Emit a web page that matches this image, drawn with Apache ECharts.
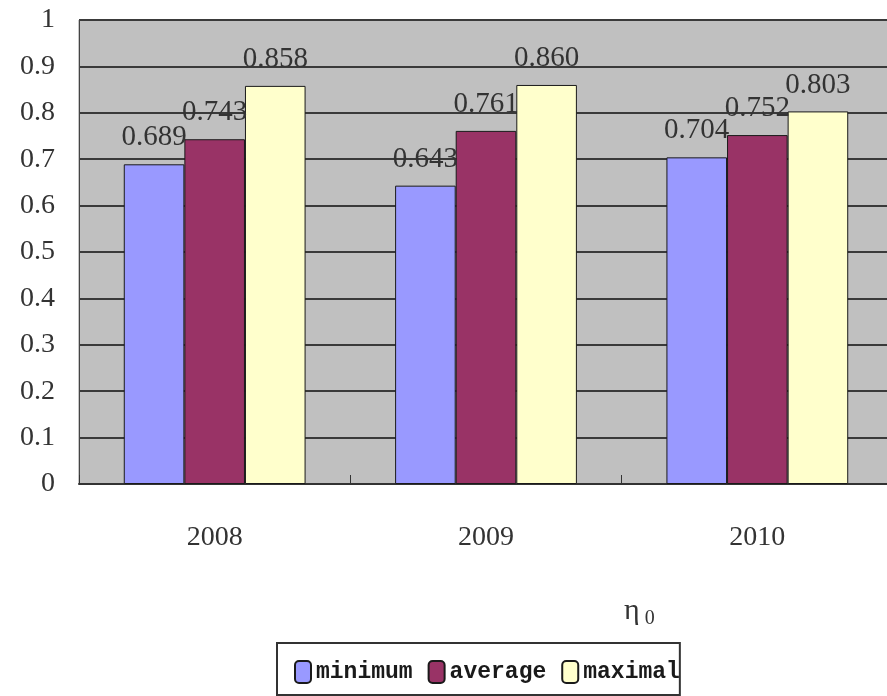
<!DOCTYPE html>
<html>
<head>
<meta charset="utf-8">
<title>η0 by year</title>
<script src="https://cdn.jsdelivr.net/npm/echarts@6/dist/echarts.min.js"></script>
<style>
  html, body { margin: 0; padding: 0; background: #ffffff; overflow: hidden; }
  /* the plot runs a few pixels past the right edge of the window */
  #chart { width: 900px; height: 696px; }
</style>
</head>
<body>
<div id="chart"></div>
<script>
// Years on the category axis
const years = ['2008', '2009', '2010'];

// η0 per year
const minimumValues = [0.689, 0.643, 0.704];
const averageValues = [0.743, 0.761, 0.752];
const maximalValues = [0.858, 0.860, 0.803];

const seriesNames = ['minimum', 'average', 'maximal'];
const seriesColors = ['#9999ff', '#993366', '#ffffcc'];

const numFont = "'Liberation Serif', 'Times New Roman', serif";
const legendFont = "'Liberation Mono', 'Courier New', monospace";

function barSeries(name, values, color) {
  return {
    name: name,
    type: 'bar',
    data: values,
    barGap: '0%',
    barCategoryGap: '33%',
    itemStyle: { color: color, borderColor: '#1a1a1a', borderWidth: 1 },
    label: {
      show: true,
      position: 'top',
      distance: 12,
      formatter: p => p.value.toFixed(3),
      fontFamily: numFont,
      fontSize: 29,
      color: '#333333'
    },
    emphasis: { disabled: true }
  };
}

const chart = echarts.init(document.getElementById('chart'), null, { renderer: 'canvas' });

chart.setOption({
  animation: false,
  backgroundColor: '#ffffff',
  title: {
    left: 619,
    top: 588,
    text: '{e|η}{s|0}',
    textStyle: {
      fontWeight: 'normal',
      rich: {
        e: { fontFamily: numFont, fontSize: 30, fontWeight: 'normal', color: '#333333', lineHeight: 32 },
        s: { fontFamily: numFont, fontSize: 20, fontWeight: 'normal', color: '#333333', padding: [16, 0, 0, 5] }
      }
    }
  },
  grid: {
    left: 79,
    top: 20,
    right: 7,
    bottom: 212,
    show: true,
    backgroundColor: '#c0c0c0',
    borderColor: '#8c8c8c',
    borderWidth: 1
  },
  legend: {
    left: 277,
    top: 643,
    data: seriesNames,
    icon: 'roundRect',
    itemWidth: 16,
    itemHeight: 22,
    itemGap: 15,
    padding: [17, 0, 11, 17],
    borderColor: '#333333',
    borderWidth: 2,
    textStyle: {
      fontFamily: legendFont,
      fontWeight: 'bold',
      fontSize: 23,
      color: '#1a1a1a'
    }
  },
  xAxis: {
    type: 'category',
    data: years,
    axisLine: { lineStyle: { color: '#333333', width: 2 } },
    axisTick: { show: true, inside: true, length: 9, lineStyle: { color: '#333333', width: 1 } },
    axisLabel: {
      margin: 40,
      fontFamily: numFont,
      fontSize: 28,
      color: '#333333'
    },
    splitLine: { show: false }
  },
  yAxis: {
    type: 'value',
    min: 0,
    max: 1,
    interval: 0.1,
    axisLine: { show: true, lineStyle: { color: '#444444', width: 1 } },
    axisTick: { show: false },
    axisLabel: {
      margin: 24,
      fontFamily: numFont,
      fontSize: 28,
      color: '#333333',
      formatter: v => (v === 0 || v === 1) ? String(v) : v.toFixed(1)
    },
    splitLine: { show: true, lineStyle: { color: '#3a3a3a', width: 2 } }
  },
  series: [
    barSeries(seriesNames[0], minimumValues, seriesColors[0]),
    barSeries(seriesNames[1], averageValues, seriesColors[1]),
    barSeries(seriesNames[2], maximalValues, seriesColors[2])
  ]
});
</script>
</body>
</html>
